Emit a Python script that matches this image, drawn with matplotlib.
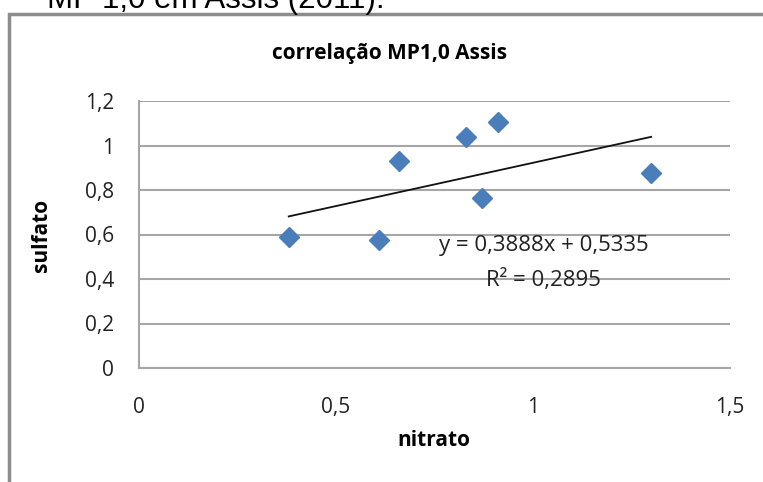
import matplotlib.pyplot as plt
from matplotlib.patches import Rectangle

# dados
nitrato = [0.38, 0.61, 0.66, 0.83, 0.87, 0.91, 1.30]
sulfato = [0.59, 0.575, 0.93, 1.04, 0.765, 1.105, 0.875]
a, b = 0.3888, 0.5335
x_ticks = [0, 0.5, 1, 1.5]
x_labels = ['0', '0,5', '1', '1,5']
y_ticks = [0, 0.2, 0.4, 0.6, 0.8, 1.0, 1.2]
y_labels = ['0', '0,2', '0,4', '0,6', '0,8', '1', '1,2']

plt.rcParams['font.family'] = ['Open Sans', 'DejaVu Sans']

W, H = 763, 482
fig = plt.figure(figsize=(W / 100, H / 100), dpi=100)

# texto cortado no topo e moldura do gráfico
fig.text(47 / W, 1 - 8 / H, 'MP 1,0 em Assis (2011).', fontsize=22.5,
         family='Liberation Sans', va='baseline', ha='left')
fig.patches.append(Rectangle((9 / W, -0.2), 1.2, 0.2 + 1 - 14 / H, transform=fig.transFigure,
                             fill=False, edgecolor='#8c8c8c', linewidth=2.5))

ax = fig.add_axes([139 / W, 1 - 368 / H, 591 / W, 267 / H])
ax.set_xlim(0, 1.5)
ax.set_ylim(0, 1.2)
ax.set_xticks(x_ticks)
ax.set_xticklabels(x_labels)
ax.set_yticks(y_ticks)
ax.set_yticklabels(y_labels)
ax.tick_params(length=0, labelsize=15, colors='#222222')
ax.tick_params(axis='y', pad=18)
ax.tick_params(axis='x', pad=21)
ax.grid(axis='y', color='#a6a6a6', linewidth=1.5)
ax.set_axisbelow(True)
for s in ['top', 'right']:
    ax.spines[s].set_visible(False)
for s in ['left', 'bottom']:
    ax.spines[s].set_color('#a6a6a6')
    ax.spines[s].set_linewidth(1.5)

ax.plot(nitrato, sulfato, 'D', color='#4a7ebb', markersize=10.5, zorder=3)
xs = [min(nitrato), max(nitrato)]
ax.plot(xs, [a * v + b for v in xs], color='#111111', linewidth=1.3, zorder=2)

ax.text(1.027, 0.549, 'y = 0,3888x + 0,5335', fontsize=16, ha='center', va='center',
        color='#222222')
ax.text(1.027, 0.396, 'R² = 0,2895', fontsize=16, ha='center', va='center', color='#222222')

fig.text(390 / W, 1 - 53 / H, 'correlação MP1,0 Assis', fontsize=15, fontweight='bold',
         ha='center', va='center')
fig.text(434 / W, 1 - 440 / H, 'nitrato', fontsize=15, fontweight='bold',
         ha='center', va='center')
fig.text(41 / W, 1 - 235 / H, 'sulfato', fontsize=15, fontweight='bold',
         ha='center', va='center', rotation=90)

fig.savefig('out.png', dpi=100)
